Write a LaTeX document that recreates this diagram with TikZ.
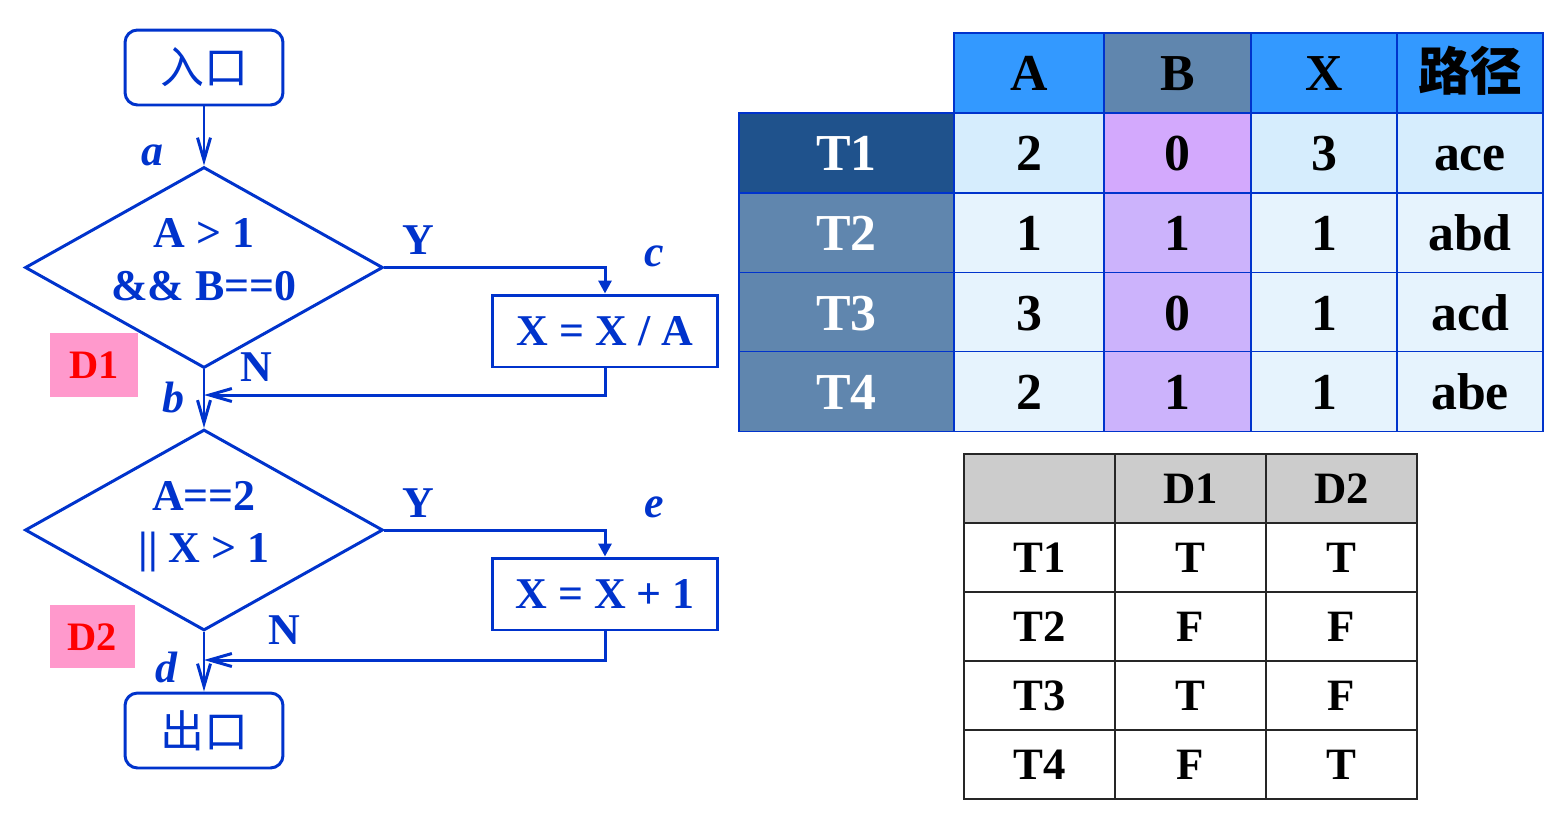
\documentclass[tikz,border=0pt]{standalone}
\usepackage{fontspec}
\setmainfont{Liberation Serif}
\newfontfamily\cjk{Noto Sans CJK SC}
\usetikzlibrary{shapes.geometric,arrows.meta}
\definecolor{fc}{RGB}{0,51,204}
\definecolor{tagpink}{RGB}{255,153,204}
\definecolor{hblue}{RGB}{51,153,255}
\definecolor{hslate}{RGB}{96,134,174}
\definecolor{tdark}{RGB}{31,82,140}
\definecolor{cone}{RGB}{214,237,253}
\definecolor{ctwo}{RGB}{230,243,253}
\definecolor{pone}{RGB}{211,169,253}
\definecolor{ptwo}{RGB}{204,179,252}
\definecolor{hgray}{RGB}{204,204,204}
\newcommand{\twolines}[2]{\raisebox{0.4cm}[0pt][0pt]{\begin{tabular}[t]{@{}c@{}}#1\\#2\end{tabular}}}
\tikzset{
  fbox/.style={draw=fc, line width=1.7pt, text=fc, font=\bfseries\fontsize{25}{30}\selectfont, inner sep=0pt},
  term/.style={fbox, rounded corners=0.25cm, minimum width=3.16cm, minimum height=1.5cm, font=\cjk\fontsize{25}{28}\selectfont},
  dia/.style={fbox, diamond, aspect=1.78, minimum width=7.16cm, minimum height=4.02cm},
  proc/.style={fbox, minimum width=4.52cm, minimum height=1.44cm, text height=17pt, text depth=0pt},
  lbl/.style={text=fc, font=\bfseries\itshape\fontsize{25}{28}\selectfont, inner sep=0pt},
  yn/.style={text=fc, font=\bfseries\fontsize{25}{28}\selectfont, inner sep=0pt},
  dtag/.style={fill=tagpink, text=red, font=\bfseries\fontsize{23}{26}\selectfont, inner sep=0pt, text height=15.6pt, text depth=0pt},
  flow/.style={draw=fc, line width=1.7pt},
  openarr/.style={-{Straight Barb[length=0.45cm,width=0.26cm]}},
  fillarr/.style={-{Triangle[length=0.26cm,width=0.26cm]}},
  tcell/.style={draw=fc, line width=1.1pt, inner sep=0pt, minimum height=1.6cm, text height=20pt, text depth=0pt, font=\bfseries\fontsize{29.5}{32}\selectfont},
  cw/.style={minimum width=#1*0.02cm},
  dcell/.style={draw=black!85, line width=1.2pt, inner sep=0pt, minimum width=3.02cm, minimum height=1.38cm, text height=17.3pt, text depth=0pt, font=\bfseries\fontsize{25.5}{28}\selectfont}
}
\begin{document}
\begin{tikzpicture}[x=0.02cm,y=-0.02cm]
\useasboundingbox (0,0) rectangle (1561,832);
% flowchart
\node[term] (in) at (204,67.5) {入口};
\node[dia] (d1) at (204,267.5) {\twolines{A > 1}{\&\& B==0}};
\node[proc] (c1) at (605,331) {X = X / A};
\node[dia] (d2) at (204,530) {\twolines{A==2}{|| X > 1}};
\node[proc] (c2) at (605,594) {X = X + 1};
\node[term] (out) at (204,730.5) {出口};
\coordinate (bpt) at (204,395);
\coordinate (dpt) at (204,660);
\draw[flow,openarr] (in.south) -- (d1.north);
\draw[flow,fillarr] (d1.east) -| (c1.north);
\draw[flow,openarr] (c1.south) |- (bpt);
\draw[flow,openarr] (d1.south) -- (d2.north);
\draw[flow,fillarr] (d2.east) -| (c2.north);
\draw[flow,openarr] (c2.south) |- (dpt);
\draw[flow,openarr] (d2.south) -- (out.north);
\node[lbl] (la) at (152,155) {a};
\node[lbl] (lb) at (173,398) {b};
\node[lbl] (lc) at (654,256) {c};
\node[lbl] (ld) at (166,667) {d};
\node[lbl] (le) at (654,507) {e};
\node[yn] (y1) at (418,240) {Y};
\node[yn] (y2) at (418,503) {Y};
\node[yn] (n1) at (256,367) {N};
\node[yn] (n2) at (284,630) {N};
\node[dtag, minimum width=1.76cm, minimum height=1.28cm] (tag1) at (94,365) {D1};
\node[dtag, minimum width=1.7cm, minimum height=1.26cm] (tag2) at (92.5,636.5) {D2};
% table 1 header
\node[tcell,cw=150,fill=hblue] (hA) at (1029,73) {A};
\node[tcell,cw=147,fill=hslate] (hB) at (1177.5,73) {B};
\node[tcell,cw=146,fill=hblue] (hX) at (1324,73) {X};
\node[tcell,cw=146,fill=hblue] (hP) at (1470,73) {\cjk\bfseries 路径};
% row T1
\node[tcell,cw=215,fill=tdark,text=white] (r1) at (846.5,153) {T1};
\node[tcell,cw=150,fill=cone] (r1A) at (1029,153) {2};
\node[tcell,cw=147,fill=pone] (r1B) at (1177.5,153) {0};
\node[tcell,cw=146,fill=cone] (r1X) at (1324,153) {3};
\node[tcell,cw=146,fill=cone] (r1P) at (1470,153) {ace};
% row T2
\node[tcell,cw=215,fill=hslate,text=white] (r2) at (846.5,233) {T2};
\node[tcell,cw=150,fill=ctwo] (r2A) at (1029,233) {1};
\node[tcell,cw=147,fill=ptwo] (r2B) at (1177.5,233) {1};
\node[tcell,cw=146,fill=ctwo] (r2X) at (1324,233) {1};
\node[tcell,cw=146,fill=ctwo] (r2P) at (1470,233) {abd};
% row T3
\node[tcell,cw=215,fill=hslate,text=white] (r3) at (846.5,312.5) {T3};
\node[tcell,cw=150,fill=ctwo] (r3A) at (1029,312.5) {3};
\node[tcell,cw=147,fill=ptwo] (r3B) at (1177.5,312.5) {0};
\node[tcell,cw=146,fill=ctwo] (r3X) at (1324,312.5) {1};
\node[tcell,cw=146,fill=ctwo] (r3P) at (1470,312.5) {acd};
% row T4
\node[tcell,cw=215,fill=hslate,text=white] (r4) at (846.5,391.5) {T4};
\node[tcell,cw=150,fill=ctwo] (r4A) at (1029,391.5) {2};
\node[tcell,cw=147,fill=ptwo] (r4B) at (1177.5,391.5) {1};
\node[tcell,cw=146,fill=ctwo] (r4X) at (1324,391.5) {1};
\node[tcell,cw=146,fill=ctwo] (r4P) at (1470,391.5) {abe};
% table 2
\node[dcell,fill=hgray] (g0) at (1039.5,488.5) {};
\node[dcell,fill=hgray] (g1) at (1190.5,488.5) {D1};
\node[dcell,fill=hgray] (g2) at (1341.5,488.5) {D2};
\node[dcell] (s10) at (1039.5,557.5) {T1};
\node[dcell] (s11) at (1190.5,557.5) {T};
\node[dcell] (s12) at (1341.5,557.5) {T};
\node[dcell] (s20) at (1039.5,626.5) {T2};
\node[dcell] (s21) at (1190.5,626.5) {F};
\node[dcell] (s22) at (1341.5,626.5) {F};
\node[dcell] (s30) at (1039.5,695.5) {T3};
\node[dcell] (s31) at (1190.5,695.5) {T};
\node[dcell] (s32) at (1341.5,695.5) {F};
\node[dcell] (s40) at (1039.5,764.5) {T4};
\node[dcell] (s41) at (1190.5,764.5) {F};
\node[dcell] (s42) at (1341.5,764.5) {T};
\end{tikzpicture}
\end{document}
